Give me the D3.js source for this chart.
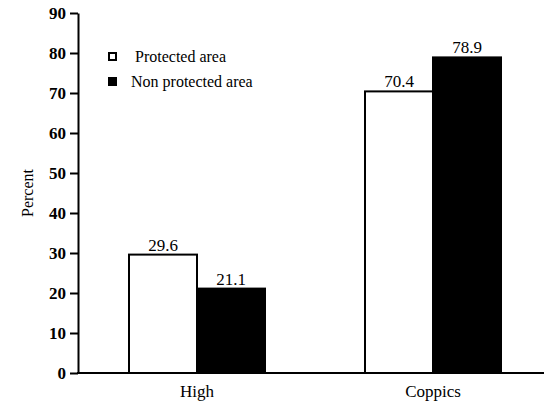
<!DOCTYPE html>
<html>
<head>
<meta charset="utf-8">
<script src="https://cdn.jsdelivr.net/npm/d3@7"></script>
</head>
<body style="margin:0;background:#fff">
<div id="chart"></div>
<script>
// data
var categories = ["High", "Coppics"];
var seriesNames = ["Protected area", "Non protected area"];
var protectedVals = [29.6, 70.4];
var nonProtectedVals = [21.1, 78.9];
var yTicks = [0, 10, 20, 30, 40, 50, 60, 70, 80, 90];

var width = 544, height = 406;
var margin = {top: 13, left: 78, bottom: 33};
var serif = "Liberation Serif";

var svg = d3.select("#chart").append("svg")
    .attr("width", width)
    .attr("height", height)
    .style("display", "block");

var y = d3.scaleLinear()
    .domain([0, 90])
    .range([height - margin.bottom, margin.top]);

var x0 = d3.scaleBand()
    .domain(categories)
    .range([79, 551])
    .padding(0);

var x1 = d3.scaleBand()
    .domain(seriesNames)
    .range([x0.bandwidth() / 2 - 68, x0.bandwidth() / 2 + 68])
    .padding(0);

var fills = {"Protected area": "#fff", "Non protected area": "#000"};

var rows = categories.map(function(c, i) {
  return {cat: c, vals: [
    {name: seriesNames[0], v: protectedVals[i]},
    {name: seriesNames[1], v: nonProtectedVals[i]}
  ]};
});

// bars
var groups = svg.append("g").selectAll("g")
    .data(rows)
  .enter().append("g")
    .attr("transform", function(d) { return "translate(" + x0(d.cat) + ",0)"; });

groups.selectAll("rect")
    .data(function(d) { return d.vals; })
  .enter().append("rect")
    .attr("x", function(d) { return x1(d.name); })
    .attr("y", function(d) { return y(d.v); })
    .attr("width", x1.bandwidth())
    .attr("height", function(d) { return y(0) - y(d.v); })
    .style("fill", function(d) { return fills[d.name]; })
    .style("stroke", "#000")
    .style("stroke-width", 2);

groups.selectAll("text.val")
    .data(function(d) { return d.vals; })
  .enter().append("text")
    .attr("class", "val")
    .attr("x", function(d) { return x1(d.name) + x1.bandwidth() / 2; })
    .attr("y", function(d) { return y(d.v) - 4; })
    .attr("text-anchor", "middle")
    .style("font-family", serif)
    .style("font-size", "17px")
    .text(function(d) { return d.v.toFixed(1); });

// y axis
var yAxis = d3.axisLeft(y)
    .tickValues(yTicks)
    .tickSize(8)
    .tickSizeOuter(0)
    .tickPadding(4);

var gy = svg.append("g")
    .attr("transform", "translate(" + margin.left + ",0)")
    .call(yAxis);
gy.select(".domain").style("stroke", "#000").style("stroke-width", 2);
gy.selectAll(".tick line").style("stroke", "#000").style("stroke-width", 2);
gy.selectAll(".tick text")
    .style("font-family", serif)
    .style("font-size", "17px")
    .style("font-weight", "bold")
    .attr("fill", "#000");

// x axis baseline
svg.append("line")
    .attr("x1", margin.left - 1)
    .attr("x2", width)
    .attr("y1", y(0))
    .attr("y2", y(0))
    .style("stroke", "#000")
    .style("stroke-width", 2);

svg.selectAll("text.cat")
    .data(categories)
  .enter().append("text")
    .attr("class", "cat")
    .attr("x", function(d) { return x0(d) + x0.bandwidth() / 2; })
    .attr("y", y(0) + 24)
    .attr("text-anchor", "middle")
    .style("font-family", serif)
    .style("font-size", "17px")
    .text(function(d) { return d; });

svg.append("text")
    .attr("transform", "translate(33," + y(45) + ") rotate(-90)")
    .attr("text-anchor", "middle")
    .style("font-family", serif)
    .style("font-size", "16px")
    .text("Percent");

// legend
var legend = svg.append("g").selectAll("g")
    .data(seriesNames)
  .enter().append("g")
    .attr("transform", function(d, i) { return "translate(108," + (52 + i * 25) + ")"; });

legend.append("rect")
    .attr("x", function(d, i) { return i === 0 ? 1 : 0; })
    .attr("y", function(d, i) { return i === 0 ? 1 : 0; })
    .attr("width", function(d, i) { return i === 0 ? 7 : 9; })
    .attr("height", function(d, i) { return i === 0 ? 7 : 9; })
    .style("fill", function(d) { return fills[d]; })
    .style("stroke", "#000")
    .style("stroke-width", function(d, i) { return i === 0 ? 2 : 0; });

legend.append("text")
    .attr("x", function(d, i) { return i === 0 ? 27 : 23; })
    .attr("y", 10)
    .style("font-family", serif)
    .style("font-size", "16px")
    .text(function(d) { return d; });
</script>
</body>
</html>
